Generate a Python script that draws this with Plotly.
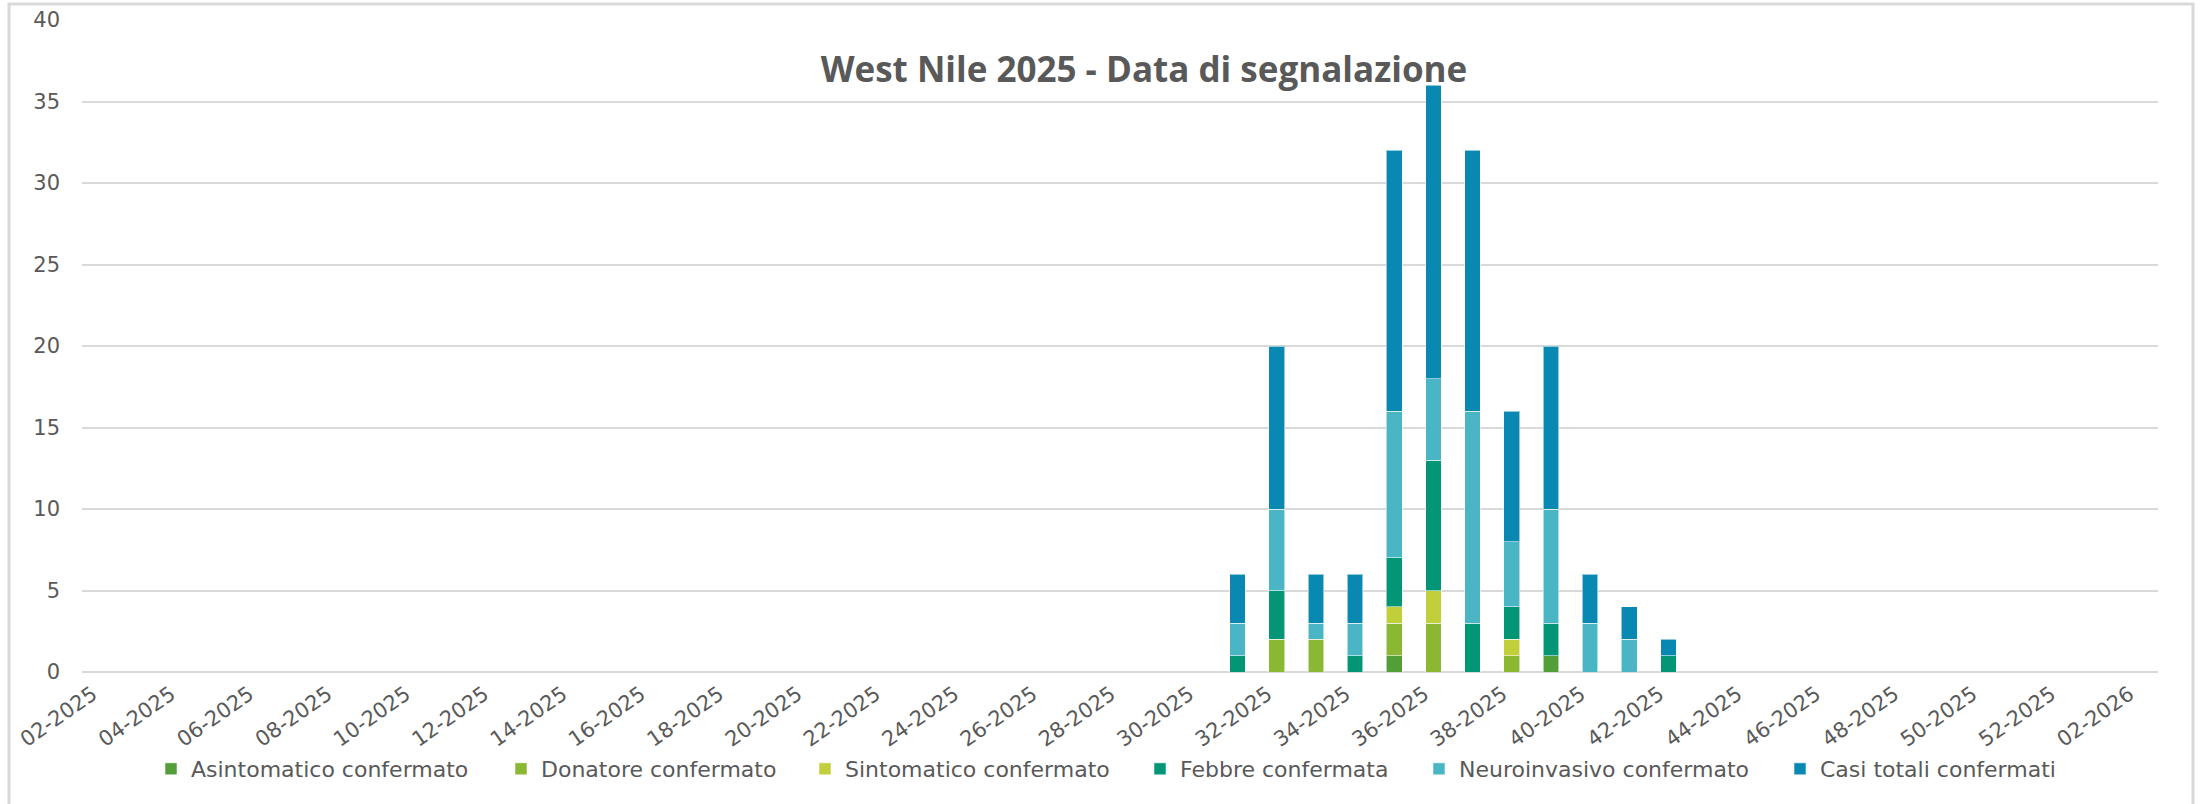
import plotly.graph_objects as go

# Categories: ISO weeks 02-2025 .. 02-2026
weeks_2025 = [f"{w:02d}-2025" for w in range(2, 53)]
categories = weeks_2025 + ["01-2026", "02-2026"]
tick_labels = categories[::2]

# Weeks with reported cases
data_weeks = ["31-2025", "32-2025", "33-2025", "34-2025", "35-2025", "36-2025",
              "37-2025", "38-2025", "39-2025", "40-2025", "41-2025", "42-2025"]

asintomatico = [0, 0, 0, 0, 1, 0, 0, 0, 1, 0, 0, 0]
donatore     = [0, 2, 2, 0, 2, 3, 0, 1, 0, 0, 0, 0]
sintomatico  = [0, 0, 0, 0, 1, 2, 0, 1, 0, 0, 0, 0]
febbre       = [1, 3, 0, 1, 3, 8, 3, 2, 2, 0, 0, 1]
neuroinvasivo= [2, 5, 1, 2, 9, 5, 13, 4, 7, 3, 2, 0]
casi_totali  = [3, 10, 3, 3, 16, 18, 16, 8, 10, 3, 2, 1]

series_names = ["Asintomatico confermato", "Donatore confermato", "Sintomatico confermato",
                "Febbre confermata", "Neuroinvasivo confermato", "Casi totali confermati"]
series_values = [asintomatico, donatore, sintomatico, febbre, neuroinvasivo, casi_totali]
series_colors = ["#549E39", "#8AB833", "#C0CF3A", "#029676", "#4AB5C4", "#0989B1"]

TXT = "#595959"
GRID = "#D9D9D9"

W, H = 2205, 804
L, R, T, B = 82, 47, 20, 132
pw, ph = W - L - R, H - T - B

def px_x(p):
    return (p - L) / pw

def px_y(p):
    return (H - B - p) / ph

# left edge (px) of each legend marker
legend_marker_px = [167, 517, 821, 1156, 1435, 1796]
legend_ids = ["legend", "legend2", "legend3", "legend4", "legend5", "legend6"]

fig = go.Figure()
for name, vals, col, lid in zip(series_names, series_values, series_colors, legend_ids):
    fig.add_trace(go.Bar(
        x=data_weeks,
        y=[v if v else None for v in vals],
        name=name,
        legend=lid,
        showlegend=True,
        marker=dict(color=col, line=dict(color="rgba(255,255,255,0.55)", width=1)),
    ))

legend_layouts = {}
for lid, mx in zip(legend_ids, legend_marker_px):
    legend_layouts[lid] = dict(
        orientation="h",
        xref="container", x=(mx - 16) / W, xanchor="left",
        yref="container", y=1 - 769 / H, yanchor="middle",
        font=dict(family="DejaVu Sans", size=22, color=TXT),
        bgcolor="rgba(0,0,0,0)",
        itemwidth=30,
    )

fig.update_layout(
    width=W, height=H,
    showlegend=True,
    barmode="stack",
    bargap=0.6,
    paper_bgcolor="white",
    plot_bgcolor="white",
    margin=dict(l=L, r=R, t=T, b=B, autoexpand=False),
    title=dict(
        text="<b>West Nile 2025 - Data di segnalazione</b>",
        font=dict(family="Open Sans", size=35, color=TXT),
        xref="paper", x=px_x(1144), xanchor="center",
        yref="container", y=1 - 70 / H, yanchor="middle",
    ),
    xaxis=dict(
        type="category",
        categoryorder="array",
        categoryarray=categories,
        range=[-0.5, len(categories) - 0.5],
        tickmode="array",
        tickvals=tick_labels,
        ticktext=tick_labels,
        tickangle=-35,
        tickfont=dict(family="DejaVu Sans", size=21, color=TXT),
        showgrid=False,
        showline=False,
        ticks="",
        ticklabelstandoff=5,
        ticklabelshift=-9,
        automargin=False,
    ),
    yaxis=dict(
        range=[0, 40],
        tickmode="linear", tick0=0, dtick=5,
        tickfont=dict(family="DejaVu Sans", size=21, color=TXT),
        showgrid=True, gridcolor=GRID, gridwidth=2,
        zeroline=False,
        showline=False,
        ticks="",
        ticklabelstandoff=21,
        automargin=False,
    ),
    shapes=[
        dict(type="line", xref="paper", yref="paper", x0=0, x1=1, y0=0, y1=0,
             line=dict(color=GRID, width=2), layer="below"),
        dict(type="rect", xref="paper", yref="paper",
             x0=px_x(9), x1=px_x(2193), y0=px_y(812), y1=px_y(4),
             line=dict(color=GRID, width=3), fillcolor="rgba(0,0,0,0)", layer="below"),
    ],
    **legend_layouts,
)

fig.write_html("out.html", config={"displayModeBar": False},
               post_script="document.body.style.margin='0';")
